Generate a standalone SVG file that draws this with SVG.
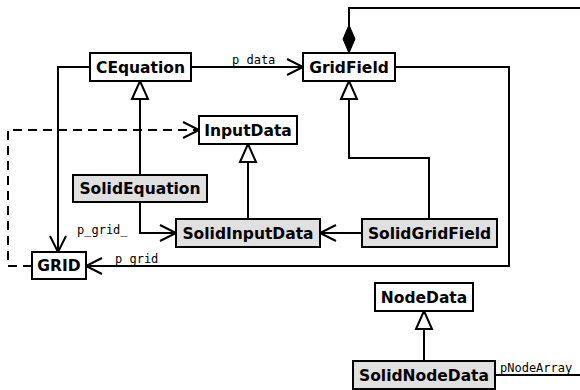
<svg xmlns="http://www.w3.org/2000/svg" width="580" height="390" viewBox="0 0 580 390">
  <style>
    .box { fill: #ffffff; stroke: #000000; stroke-width: 2; }
    .impl { fill: #e0e0e0; }
    .name { font-family: "DejaVu Sans", sans-serif; font-weight: bold; font-size: 15.5px; text-anchor: middle; fill: #000000; }
    .edge { fill: none; stroke: #000000; stroke-width: 2; }
    .dash { stroke-dasharray: 9 6; }
    .role { font-family: "DejaVu Sans Mono", monospace; font-size: 12px; fill: #000000; }
  </style>
  <defs>
    <marker id="open" markerUnits="userSpaceOnUse" viewBox="-18 -10 20 20" markerWidth="20" markerHeight="20" refX="0" refY="0" orient="auto" overflow="visible">
      <path d="M-16,-8 L0,0 L-16,8" fill="none" stroke="#000" stroke-width="2"/>
    </marker>
    <marker id="inherit" markerUnits="userSpaceOnUse" viewBox="-20 -10 22 20" markerWidth="22" markerHeight="20" refX="0" refY="0" orient="auto" overflow="visible">
      <path d="M-18,-8 L0,0 L-18,8 Z" fill="#fff" stroke="#000" stroke-width="2"/>
    </marker>
    <marker id="compose" markerUnits="userSpaceOnUse" viewBox="-30 -8 32 16" markerWidth="32" markerHeight="16" refX="0" refY="0" orient="auto" overflow="visible">
      <path d="M0,0 L-14,-6 L-28,0 L-14,6 Z" fill="#000" stroke="#000" stroke-width="1"/>
    </marker>
  </defs>

  <g id="connectors">
    <path class="edge" d="M191,67 H303" marker-end="url(#open)"/>
    <text class="role" x="232" y="64">p data</text>
    <path class="edge" d="M395,67 H509 V266 H86" marker-end="url(#open)"/>
    <text class="role" x="115" y="263">p grid</text>
    <path class="edge" d="M90,67 H58 V252" marker-end="url(#open)"/>
    <path class="edge dash" d="M32,266 H8 V130 H199" marker-end="url(#open)"/>
    <path class="edge" d="M140,175 V81" marker-end="url(#inherit)"/>
    <path class="edge" d="M140,202 V233 H176" marker-end="url(#open)"/>
    <text class="role" x="77" y="234">p_grid_</text>
    <path class="edge" d="M248,219 V144" marker-end="url(#inherit)"/>
    <path class="edge" d="M362,233 H320" marker-end="url(#open)"/>
    <path class="edge" d="M429,219 V158 H349 V81" marker-end="url(#inherit)"/>
    <path class="edge" d="M580,8 H349 V53" marker-end="url(#compose)"/>
    <path class="edge" d="M424,361 V311" marker-end="url(#inherit)"/>
    <path class="edge" d="M495,375 H580"/>
    <text class="role" x="500" y="372">pNodeArray</text>
  </g>

  <g id="CEquation">
    <rect class="box" x="90" y="53" width="101" height="28"/>
    <text class="name" x="140.5" y="72.5">CEquation</text>
  </g>
  <g id="GridField">
    <rect class="box" x="303" y="53" width="92" height="28"/>
    <text class="name" x="349" y="72.5">GridField</text>
  </g>
  <g id="InputData">
    <rect class="box" x="199" y="116" width="98" height="28"/>
    <text class="name" x="248" y="135.5">InputData</text>
  </g>
  <g id="SolidEquation">
    <rect class="box impl" x="73" y="175" width="134" height="27"/>
    <text class="name" x="140" y="194">SolidEquation</text>
  </g>
  <g id="SolidInputData">
    <rect class="box impl" x="176" y="219" width="144" height="28"/>
    <text class="name" x="248" y="238.5">SolidInputData</text>
  </g>
  <g id="SolidGridField">
    <rect class="box impl" x="362" y="219" width="135" height="28"/>
    <text class="name" x="429.5" y="238.5">SolidGridField</text>
  </g>
  <g id="GRID">
    <rect class="box" x="32" y="252" width="54" height="27"/>
    <text class="name" x="59" y="271">GRID</text>
  </g>
  <g id="NodeData">
    <rect class="box" x="375" y="283" width="98" height="28"/>
    <text class="name" x="424" y="302.5">NodeData</text>
  </g>
  <g id="SolidNodeData">
    <rect class="box impl" x="353" y="361" width="142" height="28"/>
    <text class="name" x="424" y="380.5">SolidNodeData</text>
  </g>
</svg>
